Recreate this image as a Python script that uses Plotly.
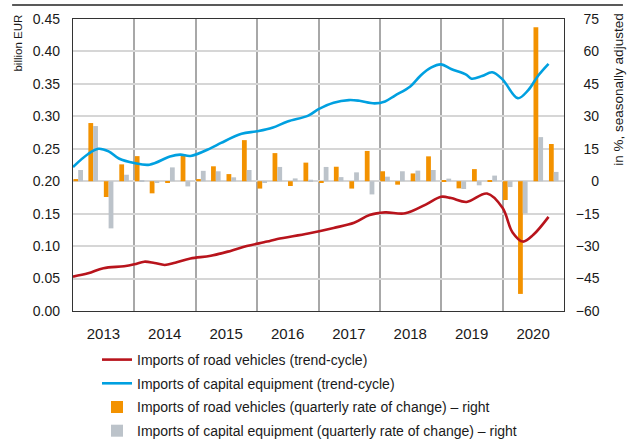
import plotly.graph_objects as go

# ---- data ----
quarters = [f"{y}Q{q}" for y in range(2013, 2021) for q in range(1, 5)]
road_qoq = [1.0, 26.9, -7.3, 7.8,
            11.6, -5.6, -0.7, 12.6,
            1.0, 6.9, 3.3, 19.0,
            -3.4, 13.0, -2.2, 8.6,
            -0.6, 6.7, -3.4, 14.0,
            4.6, -1.6, 3.6, 11.5,
            0.3, -3.3, 5.6, 0.5,
            -8.7, -52.1, 71.2, 17.2]
capital_qoq = [5.2, 25.5, -21.8, 3.0,
               0.5, -0.7, 6.4, -2.4,
               4.8, 4.6, 1.8, 5.2,
               -0.6, 6.6, 1.3, 0.7,
               6.6, 1.9, 4.1, -6.1,
               2.1, 4.6, 4.9, 5.2,
               1.2, -3.6, -1.9, 2.6,
               -2.7, -14.9, 20.4, 4.3]

capital_months = ["2013-01", "2013-04", "2013-06", "2013-08", "2013-10", "2014-01", "2014-04",
                  "2014-08", "2014-10", "2014-12", "2015-04", "2015-06", "2015-10", "2016-01",
                  "2016-04", "2016-07", "2016-11", "2017-01", "2017-04", "2017-07", "2017-09",
                  "2017-12", "2018-02", "2018-04", "2018-07", "2018-09", "2018-11", "2019-01",
                  "2019-03", "2019-06", "2019-07", "2019-09", "2019-11", "2020-01", "2020-04",
                  "2020-06", "2020-08", "2020-10"]
capital_trend = [0.222, 0.242, 0.250, 0.246, 0.235, 0.228, 0.2255,
                 0.238, 0.241, 0.239, 0.251, 0.259, 0.273, 0.277,
                 0.2825, 0.292, 0.301, 0.311, 0.321, 0.325, 0.324,
                 0.320, 0.323, 0.332, 0.346, 0.363, 0.375, 0.380,
                 0.373, 0.364, 0.358, 0.362, 0.368, 0.357, 0.328,
                 0.340, 0.363, 0.381]

road_months = ["2013-01", "2013-04", "2013-07", "2013-11", "2014-01", "2014-03", "2014-05",
               "2014-07", "2014-09", "2014-12", "2015-04", "2015-08", "2015-11", "2016-03",
               "2016-05", "2016-11", "2017-04", "2017-08", "2017-11", "2018-02", "2018-06",
               "2018-10", "2019-01", "2019-03", "2019-06", "2019-10", "2020-01", "2020-03",
               "2020-05", "2020-07", "2020-10"]
road_trend = [0.053, 0.058, 0.066, 0.069, 0.072, 0.076, 0.074,
              0.071, 0.0745, 0.081, 0.085, 0.093, 0.100, 0.107,
              0.111, 0.1195, 0.128, 0.136, 0.148, 0.152, 0.1505,
              0.164, 0.176, 0.174, 0.168, 0.181, 0.159, 0.121,
              0.107, 0.117, 0.145]

years = [str(y) for y in range(2013, 2021)]
right_ticks = [-60, -45, -30, -15, 0, 15, 30, 45, 60, 75]
left_ticks = [0.0, 0.05, 0.10, 0.15, 0.20, 0.25, 0.30, 0.35, 0.40, 0.45]

# ---- helpers ----
def quarter_date(label):
    y, q = label.split("Q")
    return f"{y}-{3 * (int(q) - 1) + 2:02d}-01"

def month_date(label):
    return label + "-01"

q_dates = [quarter_date(q) for q in quarters]

FONT = "Liberation Sans, Arial, sans-serif"
TXT = "#1a1a1a"
RED = "#b8141c"
BLUE = "#00a0e0"
ORANGE = "#f39200"
GREY = "#bcc3ca"

def fmt_right(v):
    s = str(abs(v))
    if v < 0:
        s = "\u2212" + s
    pad = 3 - len(s)
    return "\u2007" * pad + s

fig = go.Figure()

fig.add_trace(go.Bar(x=q_dates, y=road_qoq, yaxis="y", marker=dict(color=ORANGE, line=dict(width=0)),
                     name="Imports of road vehicles (quarterly rate of change) \u2013 right",
                     offsetgroup="a", legendrank=3, legendgroup="c"))
fig.add_trace(go.Bar(x=q_dates, y=capital_qoq, yaxis="y", marker=dict(color=GREY, line=dict(width=0)),
                     name="Imports of capital equipment (quarterly rate of change) \u2013 right",
                     offsetgroup="b", legendrank=4, legendgroup="d"))
fig.add_trace(go.Scatter(x=[month_date(m) for m in road_months], y=road_trend, yaxis="y2",
                         mode="lines", line=dict(color=RED, width=2.6, shape="spline", smoothing=1.0),
                         name="Imports of road vehicles (trend-cycle)", legendrank=1, legendgroup="a"))
fig.add_trace(go.Scatter(x=[month_date(m) for m in capital_months], y=capital_trend, yaxis="y2",
                         mode="lines", line=dict(color=BLUE, width=2.6, shape="spline", smoothing=1.0),
                         name="Imports of capital equipment (trend-cycle)", legendrank=2, legendgroup="b"))

fig.update_layout(
    template="none",
    width=638, height=441,
    margin=dict(l=73, r=74, t=19, b=130, autoexpand=False),
    paper_bgcolor="white", plot_bgcolor="white",
    barmode="group", bargap=0.36, bargroupgap=0,
    font=dict(family=FONT, size=14, color=TXT),
    showlegend=True,
    legend=dict(orientation="v", xref="container", yref="container",
                x=97 / 638, y=1 - 344 / 441, xanchor="left", yanchor="top",
                font=dict(family=FONT, size=14, color=TXT),
                tracegroupgap=2.5, traceorder="grouped", itemwidth=30,
                bgcolor="rgba(0,0,0,0)", borderwidth=0),
    xaxis=dict(type="date", range=["2013-01-01", "2021-01-01"], automargin=False,
               tickmode="array", tickvals=[f"{y}-07-01" for y in years], ticktext=years,
               ticks="", showgrid=False, zeroline=False,
               tickfont=dict(family=FONT, size=15, color=TXT),
               ticklabelstandoff=9,
               showline=True, linecolor="#333333", linewidth=1, mirror=True,
               minor=dict(tickmode="array", tickvals=[f"{y}-01-01" for y in range(2014, 2021)],
                          showgrid=True, gridcolor="#a8a8a8", gridwidth=1.6, ticks="")),
    yaxis=dict(side="right", range=[-60, 75], tickmode="array", tickvals=right_ticks, automargin=False,
               ticktext=[fmt_right(v) for v in right_ticks],
               showgrid=True, gridcolor="#d6d6d6", gridwidth=1.6, zeroline=False, ticks="",
               tickfont=dict(family=FONT, size=14, color=TXT), ticklabelstandoff=8,
               showline=True, linecolor="#333333", linewidth=1, mirror=True),
    yaxis2=dict(overlaying="y", side="left", range=[0, 0.45], tickmode="array", tickvals=left_ticks,
                automargin=False,
                tickformat=".2f", showgrid=False, zeroline=False, ticks="",
                tickfont=dict(family=FONT, size=14, color=TXT), ticklabelstandoff=12,
                showline=False),
)

fig.add_annotation(text="billion EUR", xref="paper", yref="paper", x=-0.111, y=1.022,
                   xanchor="center", yanchor="top", textangle=-90, showarrow=False,
                   font=dict(family=FONT, size=11.5, color=TXT))
fig.add_annotation(text="in %, seasonally adjusted", xref="paper", yref="paper", x=1.112, y=1.025,
                   xanchor="center", yanchor="top", textangle=-90, showarrow=False,
                   font=dict(family=FONT, size=13.5, color=TXT))
fig.add_shape(type="line", xref="paper", yref="paper", x0=-0.124, x1=1.12, y0=1.048, y1=1.048,
              line=dict(color="#222222", width=1.5))

fig.write_html("out.html", config={"displayModeBar": False},
               post_script="document.body.style.margin='0';")
